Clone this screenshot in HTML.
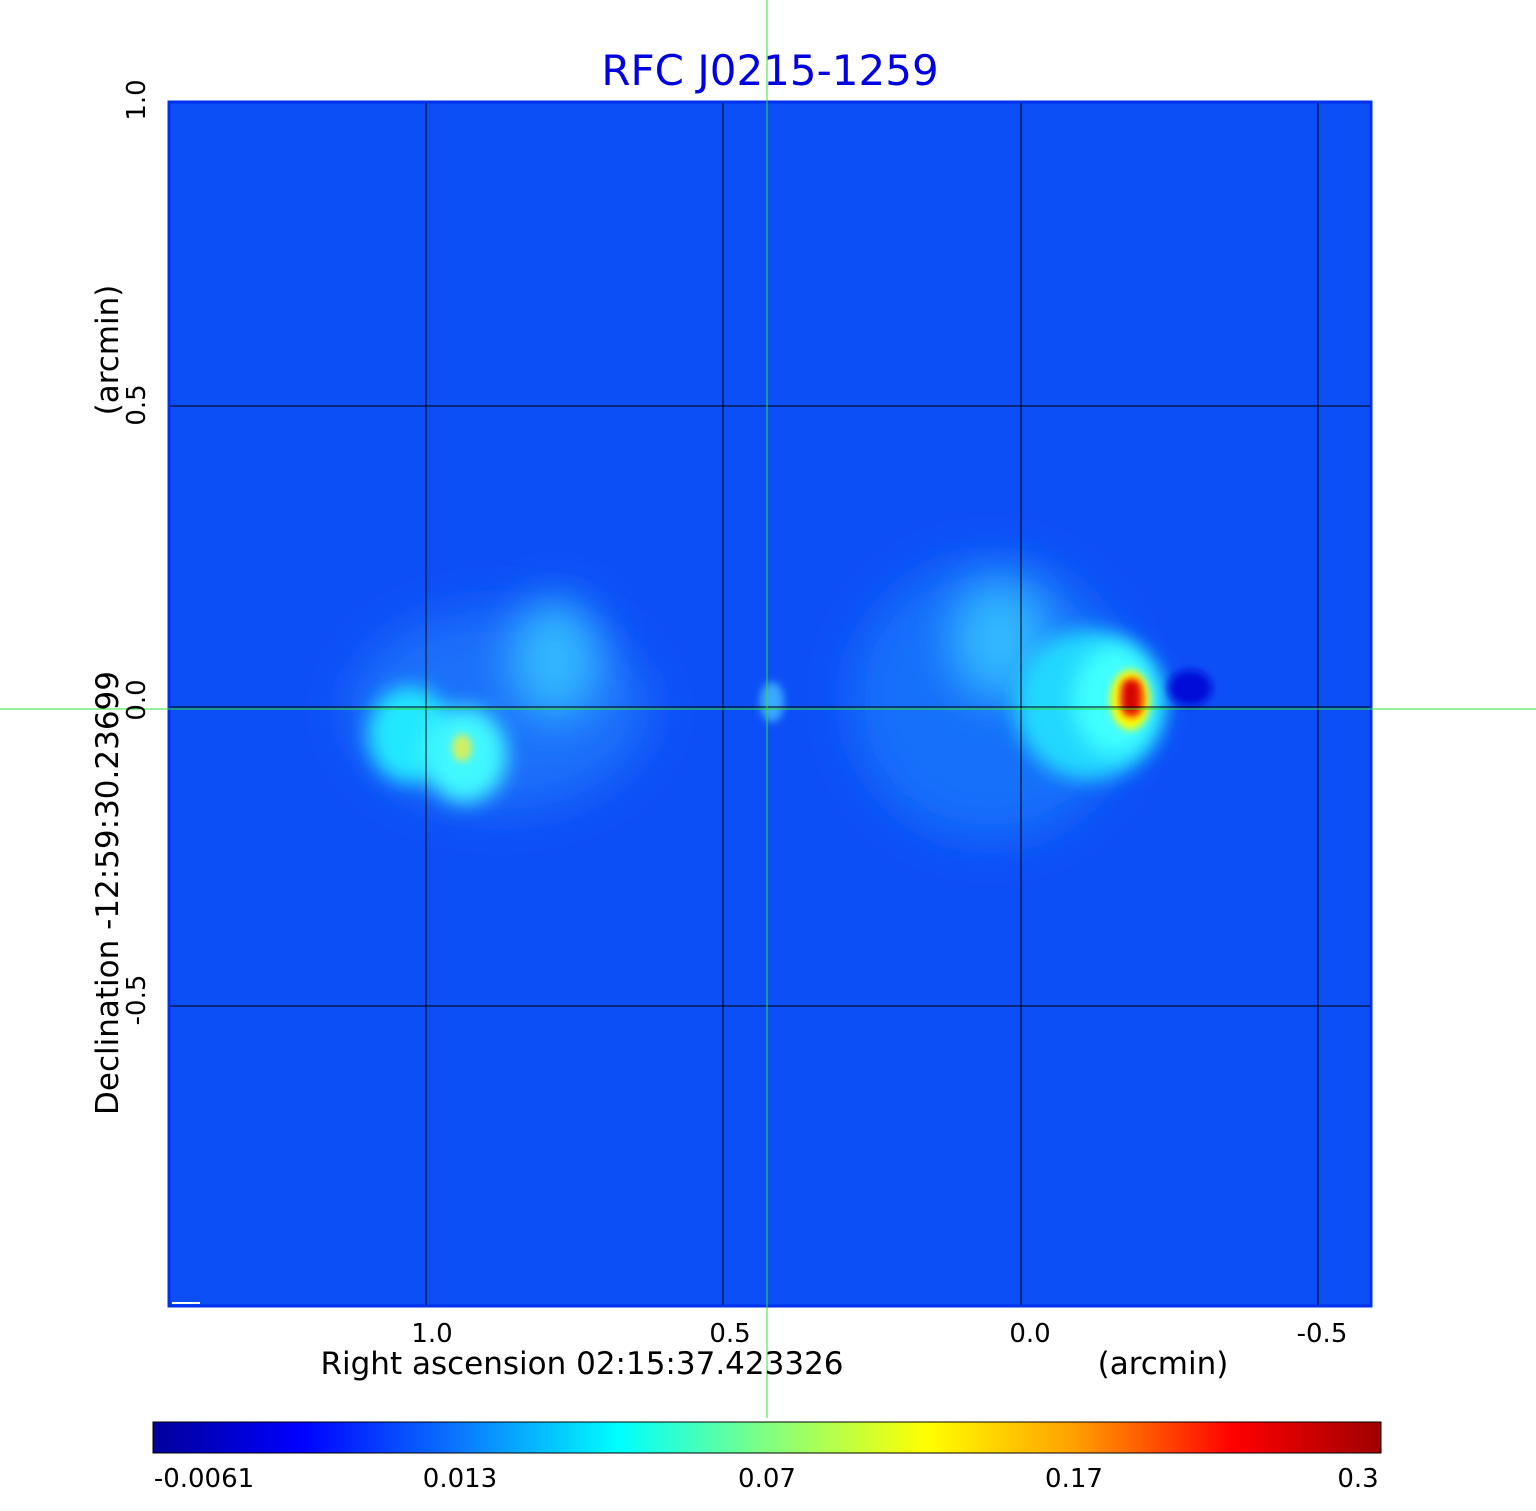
<!DOCTYPE html>
<html><head><style>body{margin:0;background:#fff}svg{display:block}</style></head>
<body>
<svg width="1536" height="1511" xmlns="http://www.w3.org/2000/svg" font-family="'DejaVu Sans','Liberation Sans',sans-serif">
<defs>
<filter id="b1" x="-50%" y="-50%" width="200%" height="200%"><feGaussianBlur stdDeviation="22"/></filter>
<filter id="b2" x="-50%" y="-50%" width="200%" height="200%"><feGaussianBlur stdDeviation="10"/></filter>
<filter id="b3" x="-50%" y="-50%" width="200%" height="200%"><feGaussianBlur stdDeviation="4"/></filter>
<linearGradient id="cb" x1="0" x2="1">
<stop offset="0" stop-color="#00009a"/><stop offset="0.12" stop-color="#0000ff"/>
<stop offset="0.25" stop-color="#0a78ff"/><stop offset="0.38" stop-color="#00ffff"/>
<stop offset="0.5" stop-color="#80ff80"/><stop offset="0.63" stop-color="#ffff00"/>
<stop offset="0.75" stop-color="#ffa000"/><stop offset="0.88" stop-color="#ff0000"/>
<stop offset="1" stop-color="#a00000"/></linearGradient>
<clipPath id="cp"><rect x="170" y="103" width="1200" height="1202"/></clipPath>
</defs>
<text x="770" y="85" font-size="42" fill="#0000e0" text-anchor="middle">RFC J0215-1259</text>
<rect x="169" y="102" width="1202" height="1204" fill="#0d4ff7" stroke="#0030f0" stroke-width="3"/>
<g clip-path="url(#cp)">
<ellipse cx="500" cy="710" rx="150" ry="100" fill="#1a70fa" filter="url(#b1)"/>
<ellipse cx="555" cy="660" rx="45" ry="60" fill="#30b8ff" filter="url(#b1)"/>
<ellipse cx="410" cy="735" rx="42" ry="48" fill="#20e8ff" filter="url(#b2)"/>
<ellipse cx="465" cy="755" rx="42" ry="48" fill="#40f8ff" filter="url(#b2)"/>
<ellipse cx="462" cy="748" rx="10" ry="14" fill="#d0f060" filter="url(#b3)"/>
<ellipse cx="772" cy="702" rx="12" ry="20" fill="#3aa8ff" filter="url(#b3)"/>
<ellipse cx="990" cy="700" rx="140" ry="140" fill="#1870fa" filter="url(#b1)"/>
<ellipse cx="1000" cy="640" rx="50" ry="60" fill="#30b8ff" filter="url(#b1)"/>
<ellipse cx="1090" cy="705" rx="75" ry="75" fill="#20d8ff" filter="url(#b2)"/>
<ellipse cx="1115" cy="700" rx="42" ry="55" fill="#40ffff" filter="url(#b2)"/>
<ellipse cx="1130" cy="700" rx="20" ry="30" fill="#ffff00" filter="url(#b3)"/>
<ellipse cx="1132" cy="698" rx="12" ry="20" fill="#ff4000" filter="url(#b3)"/>
<rect x="1124" y="682" width="14" height="30" fill="#d00000" filter="url(#b3)"/>
<ellipse cx="1190" cy="688" rx="22" ry="18" fill="#0010d8" filter="url(#b3)"/>
</g>
<g stroke="#000" stroke-width="1">
<line x1="426" y1="103" x2="426" y2="1305"/><line x1="723" y1="103" x2="723" y2="1305"/>
<line x1="1021" y1="103" x2="1021" y2="1305"/><line x1="1318" y1="103" x2="1318" y2="1305"/>
<line x1="170" y1="406" x2="1370" y2="406"/><line x1="170" y1="707" x2="1370" y2="707"/>
<line x1="170" y1="1006" x2="1370" y2="1006"/>
</g>
<line x1="172" y1="1303" x2="200" y2="1303" stroke="#fff" stroke-width="2"/>
<g stroke="#30e030" stroke-width="1">
<line x1="767" y1="0" x2="767" y2="1418"/><line x1="0" y1="709" x2="1536" y2="709"/>
</g>
<g font-size="26" fill="#000" text-anchor="middle" xml:space="preserve">
<text x="432" y="1342">1.0</text><text x="730" y="1342">0.5</text>
<text x="1030" y="1342">0.0</text><text x="1322" y="1342">-0.5</text>
<text x="582" y="1374" font-size="31">Right ascension  02:15:37.423326</text>
<text x="1163" y="1374" font-size="31">(arcmin)</text>
<text transform="translate(145,100) rotate(-90)">1.0</text>
<text transform="translate(145,405) rotate(-90)">0.5</text>
<text transform="translate(145,700) rotate(-90)">0.0</text>
<text transform="translate(145,1000) rotate(-90)">-0.5</text>
<text transform="translate(118,350) rotate(-90)" font-size="31">(arcmin)</text>
<text transform="translate(118,893) rotate(-90)" font-size="31">Declination  -12:59:30.23699</text>
</g>
<rect x="153" y="1422" width="1228" height="31" fill="url(#cb)" stroke="#000" stroke-width="1"/>
<g font-size="26" fill="#000" text-anchor="middle">
<text x="204" y="1487">-0.0061</text><text x="460" y="1487">0.013</text>
<text x="767" y="1487">0.07</text><text x="1074" y="1487">0.17</text><text x="1358" y="1487">0.3</text>
</g>
</svg>
</body></html>
